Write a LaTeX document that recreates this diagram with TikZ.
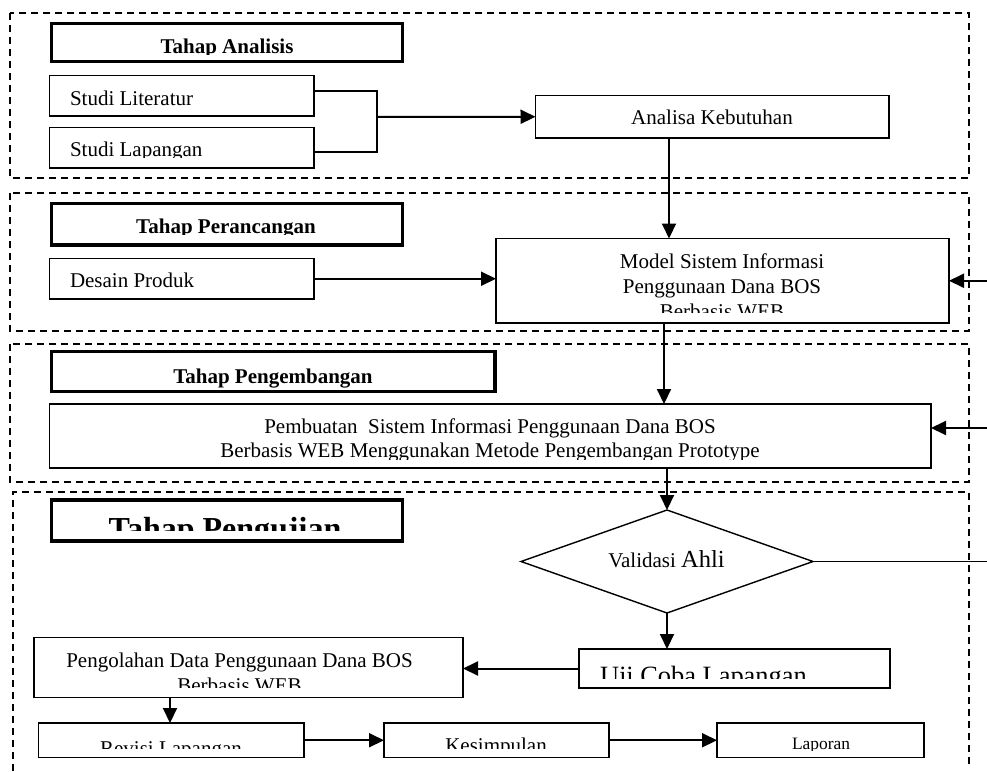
\documentclass[tikz,border=0pt]{standalone}
\usepackage{fontspec}
\setmainfont{Liberation Serif}
\usetikzlibrary{arrows.meta,shapes.geometric}
% name, anchor, x, baseline y, clip y, content
\newcommand{\cliptxt}[6]{%
  \begin{scope}
    \clip (#3-300,#4-60) rectangle (#3+300,#5);
    \node[txt, anchor=#2] (#1) at (#3,#4) {#6};
  \end{scope}}
\tikzset{
  txt/.style={inner sep=0pt, outer sep=0pt, font=\fontsize{21}{25}\selectfont},
  box/.style={draw, fill=white, line width=1.3pt, inner sep=0pt, outer sep=0pt, anchor=north west},
  headbox/.style={box, line width=3.8pt},
  frame/.style={line width=1.3pt, dash pattern=on 7pt off 5pt},
  arr/.style={line width=2pt, -{Triangle[length=15pt,width=14pt]}},
  plain/.style={line width=1.4pt},
}
\begin{document}
\begin{tikzpicture}[x=1pt,y=-1pt]
\useasboundingbox (0,0) rectangle (987,771);
% stage frames
\draw[frame] (10,13) rectangle (969,178);
\draw[frame] (10,193) rectangle (969,331);
\draw[frame] (10,344) rectangle (969,482);
\draw[frame] (13,771) -- (13,492) -- (969,492) -- (969,765);

% helper coordinates
\coordinate (redge) at (987,0);
\coordinate (c669) at (669,0);
\coordinate (c664) at (664,0);
\coordinate (c170) at (170,0);
\coordinate (brmid) at (377,117);
\coordinate (fb2) at (987,428);

% boxes
\node[headbox, minimum width=351pt, minimum height=38pt] (tA) at (51.5,23.5) {};
\node[box, minimum width=264.5pt, minimum height=40.5pt] (lit) at (49.5,75.5) {};
\node[box, minimum width=264.5pt, minimum height=40.5pt] (lap) at (49.5,127.5) {};
\node[box, minimum width=353.5pt, minimum height=42.5pt] (keb) at (535.5,95.5) {};
\node[headbox, minimum width=351pt, minimum height=41.5pt] (tP) at (51.5,203.5) {};
\node[box, minimum width=264.5pt, minimum height=40.5pt] (des) at (49.5,258.5) {};
\node[box, minimum width=453pt, minimum height=84.5pt] (model) at (496,238.5) {};
\node[headbox, minimum width=443.5pt, minimum height=40pt] (tPg) at (51.5,351.5) {};
\node[box, minimum width=881.5pt, minimum height=64pt] (buat) at (49.5,404) {};
\node[headbox, minimum width=351pt, minimum height=41pt] (tU) at (51.5,500) {};
\node[draw, fill=white, line width=1.4pt, diamond, aspect=2.835, inner sep=0pt, outer sep=0pt,
      minimum width=292pt, minimum height=103pt] (dia) at (667,561.5) {};
\node[box, line width=2pt, minimum width=311pt, minimum height=39pt] (uji) at (578.5,649) {};
\node[box, minimum width=429pt, minimum height=60pt] (olah) at (34,637.5) {};
\node[box, minimum width=265.5pt, minimum height=34.5pt] (rev) at (38.5,723) {};
\node[box, minimum width=225pt, minimum height=34.5pt] (kes) at (384,723) {};
\node[box, minimum width=207pt, minimum height=34.5pt] (lapor) at (717,723) {};

% texts
\cliptxt{tAt}{base}{227}{53}{54}{\bfseries Tahap Analisis}
\cliptxt{litt}{base west}{70}{105}{200}{Studi Literatur}
\cliptxt{lapt}{base west}{70}{156}{157.5}{Studi Lapangan}
\cliptxt{kebt}{base}{712}{124}{200}{Analisa Kebutuhan}
\cliptxt{tPt}{base}{226}{233}{234}{\bfseries Tahap Perancangan}
\cliptxt{dest}{base west}{70}{287}{400}{Desain Produk}
\cliptxt{modela}{base}{722}{268}{400}{Model Sistem Informasi}
\cliptxt{modelb}{base}{722}{293}{400}{Penggunaan Dana BOS}
\cliptxt{modelc}{base}{722}{318.5}{312}{Berbasis WEB}
\cliptxt{tPgt}{base}{273}{383.5}{389.5}{\bfseries Tahap Pengembangan}
\cliptxt{buata}{base}{490}{433}{500}{Pembuatan\ \ Sistem Informasi Penggunaan Dana BOS}
\cliptxt{buatb}{base}{490}{457}{459.5}{Berbasis WEB Menggunakan Metode Pengembangan Prototype}
\cliptxt{tUt}{base}{225}{539}{530}{\fontsize{32}{38}\selectfont\bfseries Tahap Pengujian}
\node[txt, anchor=base] (vtext) at (666.5,567) {Validasi {\fontsize{24.5}{28}\selectfont Ahli}};
\cliptxt{ujit}{base west}{600}{684.5}{678}{\fontsize{26.4}{30}\selectfont Uji Coba Lapangan}
\cliptxt{olaha}{base}{239.5}{667}{700}{Pengolahan Data Penggunaan Dana BOS}
\cliptxt{olahb}{base}{239.5}{692}{687}{Berbasis WEB}
\cliptxt{revt}{base}{171}{755}{748.5}{Revisi Lapangan}
\cliptxt{kest}{base}{496}{752}{748}{Kesimpulan}
\cliptxt{lapot}{base}{821}{749.5}{750.5}{\fontsize{17.4}{21}\selectfont Laporan}

% connectors
\draw[plain] ([yshift=4.75pt]lit.east) -| (brmid) |- ([yshift=-4.25pt]lap.east);
\draw[arr] (brmid) -- (keb.west);
\draw[arr] (keb.south -| c669) -- (model.north -| c669);
\draw[arr] (des.east) -- (des.east -| model.west);
\draw[arr] (model.east -| redge) -- (model.east);
\draw[arr] (model.south -| c664) -- (buat.north -| c664);
\draw[arr] (fb2) -- (fb2 -| buat.east);
\draw[arr] (buat.south -| dia.north) -- (dia.north);
\draw[plain] (dia.east) -- (dia.east -| redge);
\draw[arr] (dia.south) -- (dia.south |- uji.north);
\draw[arr] (uji.west) -- (uji.west -| olah.east);
\draw[arr] (olah.south -| c170) -- (rev.north -| c170);
\draw[arr] (rev.east) -- (kes.west);
\draw[arr] (kes.east) -- (lapor.west);
\end{tikzpicture}
\end{document}
